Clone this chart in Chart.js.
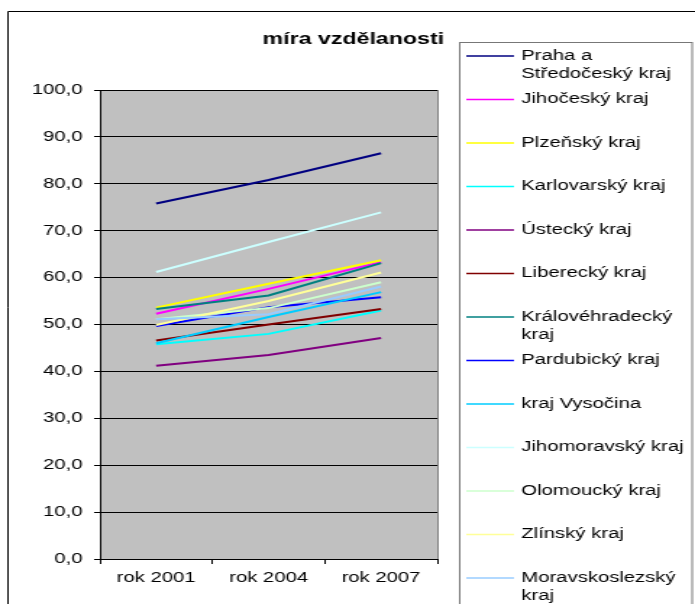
<!DOCTYPE html>
<html>
<head>
<meta charset="utf-8">
<script src="https://cdn.jsdelivr.net/npm/chart.js@4"></script>
<style>
    body { margin: 0; background: #fff; overflow: hidden; }
    #wrap { width: 480px; height: 604px; transform: scaleX(1.448); transform-origin: 0 0; }
</style>
</head>
<body>
<div id="wrap"><canvas id="graf" width="480" height="604" style="width:480px;height:604px"></canvas></div>
<script>
// roky
const roky = ["rok 2001", "rok 2004", "rok 2007"];

// kraje a barvy
const kraje = ["Praha a Středočeský kraj", "Jihočeský kraj", "Plzeňský kraj", "Karlovarský kraj", "Ústecký kraj",
    "Liberecký kraj", "Královéhradecký kraj", "Pardubický kraj", "kraj Vysočina", "Jihomoravský kraj",
    "Olomoucký kraj", "Zlínský kraj", "Moravskoslezský kraj"];
const barvy = ["#000080", "#FF00FF", "#FFFF00", "#00FFFF", "#800080", "#800000", "#008080",
    "#0000FF", "#00CCFF", "#CCFFFF", "#CCFFCC", "#FFFF99", "#99CCFF"];

// hodnoty po krajich
const praha = [75.8, 80.8, 86.5];
const jihocesky = [52.3, 57.6, 63.3];
const plzensky = [53.6, 58.7, 63.7];
const karlovarsky = [45.8, 48.0, 53.0];
const ustecky = [41.2, 43.5, 47.1];
const liberecky = [46.6, 50.0, 53.3];
const kralovehradecky = [53.3, 56.2, 63.1];
const pardubicky = [49.7, 53.7, 55.8];
const vysocina = [46.0, 51.6, 56.9];
const jihomoravsky = [61.2, 67.6, 73.9];
const olomoucky = [51.1, 53.5, 59.0];
const zlinsky = [49.9, 55.0, 61.1];
const moravskoslezsky = [51.1, 52.2, 58.1];

const hodnoty = [praha, jihocesky, plzensky, karlovarsky, ustecky, liberecky, kralovehradecky,
    pardubicky, vysocina, jihomoravsky, olomoucky, zlinsky, moravskoslezsky];

const pismo = "'Liberation Sans', Arial, sans-serif";

let ds = [];
for (let i = 0; i < kraje.length; ++i) {
    ds.push({
        label: kraje[i],
        data: hodnoty[i],
        borderColor: barvy[i],
        backgroundColor: barvy[i],
        borderWidth: 2,
        pointRadius: 0,
        tension: 0,
        fill: false,
        order: kraje.length - i
    });
}

// seda plocha grafu
const pozadi = {
    id: "pozadi",
    beforeDraw(chart) {
        const ctx = chart.ctx;
        const a = chart.chartArea;
        ctx.save();
        ctx.fillStyle = "#C0C0C0";
        ctx.fillRect(a.left, a.top, a.right - a.left, a.bottom - a.top);
        ctx.strokeStyle = "#808080";
        ctx.lineWidth = 1;
        ctx.beginPath();
        ctx.moveTo(a.right + 0.5, a.top);
        ctx.lineTo(a.right + 0.5, a.bottom);
        ctx.stroke();
        ctx.restore();
    }
};

function zalom(ctx, text, maxW) {
    let slova = text.split(" ");
    let radky = [];
    let r = "";
    for (const s of slova) {
        let t = r === "" ? s : r + " " + s;
        if (ctx.measureText(t).width > maxW && r !== "") {
            radky.push(r);
            r = s;
        } else r = t;
    }
    radky.push(r);
    return radky;
}

// ramecek, nadpis a legenda
const legenda = {
    id: "legenda",
    afterDraw(chart) {
        const ctx = chart.ctx;
        ctx.save();

        ctx.strokeStyle = "#000";
        ctx.lineWidth = 1;
        ctx.beginPath();
        ctx.moveTo(5.5, 604);
        ctx.lineTo(5.5, 11.5);
        ctx.lineTo(480, 11.5);
        ctx.stroke();

        ctx.fillStyle = "#000";
        ctx.font = "bold 16px " + pismo;
        ctx.textAlign = "center";
        ctx.textBaseline = "alphabetic";
        ctx.fillText("míra vzdělanosti", 244, 44);

        ctx.strokeStyle = "#777";
        ctx.strokeRect(317.5, 42.5, 160.5, 600);

        ctx.font = "14px " + pismo;
        ctx.textAlign = "left";
        ctx.textBaseline = "middle";
        for (let i = 0; i < chart.data.datasets.length; ++i) {
            const d = chart.data.datasets[i];
            const y = 56 + i * 43.5;
            ctx.strokeStyle = d.borderColor;
            ctx.lineWidth = 1.5;
            ctx.beginPath();
            ctx.moveTo(322, y);
            ctx.lineTo(355, y);
            ctx.stroke();
            ctx.fillStyle = "#000";
            const radky = zalom(ctx, d.label, 116);
            for (let j = 0; j < radky.length; ++j) ctx.fillText(radky[j], 360, y + j * 18);
        }
        ctx.restore();
    }
};

new Chart(document.getElementById("graf"), {
    type: "line",
    data: {
        labels: roky,
        datasets: ds
    },
    options: {
        responsive: false,
        animation: false,
        devicePixelRatio: 1,
        layout: { padding: { left: 0, top: 90, right: 178, bottom: 0 } },
        plugins: {
            legend: { display: false },
            title: { display: false },
            tooltip: { enabled: false }
        },
        scales: {
            x: {
                offset: true,
                grid: { offset: true, drawOnChartArea: false, color: "#000", tickLength: 5 },
                border: { color: "#000" },
                ticks: { color: "#000", font: { family: pismo, size: 14 }, padding: 6, maxRotation: 0 },
                afterFit: s => { s.height = 45; }
            },
            y: {
                min: 0,
                max: 100,
                grid: { color: "#000", lineWidth: 1, tickLength: 4 },
                border: { color: "#000" },
                ticks: {
                    stepSize: 10,
                    color: "#000",
                    padding: 8,
                    font: { family: pismo, size: 14 },
                    callback: v => v.toFixed(1).replace(".", ",")
                },
                afterFit: s => { s.width = 69; }
            }
        }
    },
    plugins: [pozadi, legenda]
});
</script>
</body>
</html>
